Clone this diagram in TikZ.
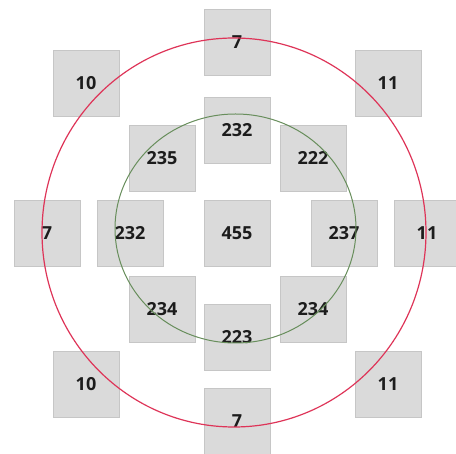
\documentclass[tikz,border=0pt]{standalone}
\usepackage{fontspec}
\setmainfont{Open Sans}
\definecolor{boxgray}{RGB}{218,218,218}
\definecolor{boxedge}{RGB}{198,198,198}
\definecolor{ringred}{RGB}{222,52,88}
\definecolor{ringgreen}{RGB}{104,142,92}
\definecolor{numtext}{RGB}{28,28,28}
\tikzset{
  cell/.style={rectangle, fill=boxgray, draw=boxedge, line width=0.6pt,
    minimum size=66pt, inner sep=0pt, text=numtext,
    font=\fontsize{18}{20}\selectfont\bfseries},
}

\begin{document}
\begin{tikzpicture}[x=1pt, y=-1pt]
  \useasboundingbox (0,0) rectangle (456,454);
  \clip (0,0) rectangle (456,454);

  % Outer cells
  \node[cell] (top7)    at (237,42)  {7};
  \node[cell] (tl10)    at (86,83)   {10};
  \node[cell] (tr11)    at (388,83)  {11};
  \node[cell] (left7)   at (47,233)  {7};
  \node[cell] (right11) at (427,233) {11};
  \node[cell] (bl10)    at (86,384)  {10};
  \node[cell] (br11)    at (388,384) {11};
  \node[cell] (bot7)    at (237,421) {7};

  % Inner cells
  \node[cell] (n232)  at (237,130) {232};
  \node[cell] (nw235) at (162,158) {235};
  \node[cell] (ne222) at (313,158) {222};
  \node[cell] (w232)  at (130,233) {232};
  \node[cell] (mid)   at (237,233) {455};
  \node[cell] (e237)  at (344,233) {237};
  \node[cell] (sw234) at (162,309) {234};
  \node[cell] (se234) at (313,309) {234};
  \node[cell] (s223)  at (237,337) {223};

  % Rings
  \draw[ringred, line width=1.2pt] (234,232.5) ellipse (192pt and 194.5pt);
  \draw[ringgreen, line width=1pt] (235.5,228.5) ellipse (120.5pt and 114.5pt);
\end{tikzpicture}
\end{document}
